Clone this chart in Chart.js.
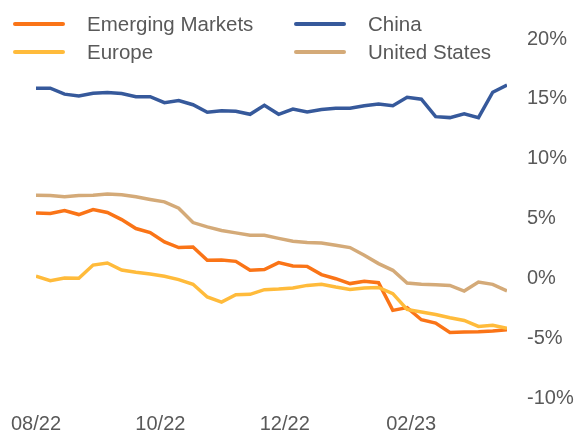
<!DOCTYPE html>
<html>
<head>
<meta charset="utf-8">
<script src="https://cdn.jsdelivr.net/npm/chart.js@4.4.0/dist/chart.umd.min.js"></script>
<style>
  html, body { margin: 0; padding: 0; background: #fff; }
  #wrap { position: relative; width: 580px; height: 433px; }
  #legend { position: absolute; left: 0; top: 0; width: 580px; height: 70px;
            font-family: "Liberation Sans", Arial, Helvetica, sans-serif; font-size: 20.5px; color: #595959; }
  .item { position: absolute; height: 24px; line-height: 24px; white-space: nowrap; }
  .swatch { position: absolute; top: 10px; width: 52px; height: 4px; border-radius: 2px; }
  .label { position: absolute; }
</style>
</head>
<body>
<div id="wrap">
  <canvas id="chart" width="580" height="433"></canvas>
  <div id="legend"></div>
</div>
<script>
'use strict';

// weekly observations (week start dates)
var weeks = [
    "2022-08-01", "2022-08-08", "2022-08-15", "2022-08-22", "2022-08-29",
    "2022-09-05", "2022-09-12", "2022-09-19", "2022-09-26",
    "2022-10-03", "2022-10-10", "2022-10-17", "2022-10-24", "2022-10-31",
    "2022-11-07", "2022-11-14", "2022-11-21", "2022-11-28",
    "2022-12-05", "2022-12-12", "2022-12-19", "2022-12-26",
    "2023-01-02", "2023-01-09", "2023-01-16", "2023-01-23", "2023-01-30",
    "2023-02-06", "2023-02-13", "2023-02-20", "2023-02-27",
    "2023-03-06", "2023-03-13", "2023-03-20"
];

var emergingMarkets = [5.47, 5.42, 5.67, 5.33, 5.75, 5.50, 4.91, 4.16, 3.83, 3.04, 2.57, 2.62,
    1.51, 1.53, 1.42, 0.67, 0.73, 1.31, 1.03, 1.00, 0.31, -0.03, -0.44, -0.25, -0.36,
    -2.68, -2.45, -3.46, -3.74, -4.52, -4.49, -4.47, -4.41, -4.30];
var europe = [0.19, -0.19, 0.03, 0.00, 1.11, 1.28, 0.70, 0.50, 0.36, 0.17, -0.11, -0.50,
    -1.56, -1.98, -1.37, -1.34, -0.95, -0.90, -0.81, -0.59, -0.50, -0.73, -0.93, -0.81, -0.76,
    -1.28, -2.60, -2.82, -3.02, -3.30, -3.52, -4.02, -3.92, -4.18];
var china = [15.89, 15.89, 15.39, 15.24, 15.47, 15.52, 15.44, 15.18, 15.18, 14.68, 14.85, 14.51,
    13.88, 14.01, 13.96, 13.71, 14.46, 13.71, 14.15, 13.90, 14.10, 14.21, 14.21, 14.43, 14.57,
    14.43, 15.13, 14.97, 13.51, 13.43, 13.74, 13.43, 15.55, 16.16];
var unitedStates = [6.95, 6.93, 6.81, 6.93, 6.95, 7.04, 6.98, 6.81, 6.59, 6.39, 5.86, 4.66,
    4.30, 4.00, 3.80, 3.60, 3.60, 3.34, 3.10, 2.99, 2.96, 2.76, 2.57, 1.93, 1.23,
    0.67, -0.39, -0.50, -0.53, -0.59, -1.06, -0.31, -0.50, -1.06];

var tickDates = ["2022-08-01", "2022-10-01", "2022-12-01", "2023-02-01"];
var tickLabels = ["08/22", "10/22", "12/22", "02/23"];

var seriesNames = ["Emerging Markets", "Europe", "China", "United States"];
var seriesColors = ["#fa7417", "#ffbb3b", "#36599b", "#d4aa78"];
var seriesData = [emergingMarkets, europe, china, unitedStates];

var DAY = 86400000;
var start = Date.parse(weeks[0]);
function dayOf(s) { return Math.round((Date.parse(s) - start) / DAY); }
var tickDays = tickDates.map(dayOf);

var FONT = "'Liberation Sans', Arial, Helvetica, sans-serif";

function draw() {
    var datasets = seriesData.map(function(values, i) {
        return {
            label: seriesNames[i],
            data: values.map(function(v, j) { return { x: dayOf(weeks[j]), y: v }; }),
            borderColor: seriesColors[i],
            backgroundColor: seriesColors[i],
            borderWidth: 3.5,
            pointRadius: 0,
            tension: 0,
            borderJoinStyle: 'miter'
        };
    });
    // draw China/US under the orange ones like the reference
    datasets = [datasets[3], datasets[2], datasets[1], datasets[0]];

    new Chart(document.getElementById('chart'), {
        type: 'line',
        data: { datasets: datasets },
        options: {
            responsive: false,
            animation: false,
            layout: { padding: { left: 36, top: 39, right: 0, bottom: 0 } },
            plugins: { legend: { display: false }, tooltip: { enabled: false } },
            scales: {
                x: {
                    type: 'linear',
                    min: 0,
                    max: dayOf(weeks[weeks.length - 1]),
                    grid: { display: false, drawTicks: false },
                    border: { display: false },
                    afterBuildTicks: function(scale) {
                        scale.ticks = tickDays.map(function(d) { return { value: d }; });
                    },
                    afterFit: function(scale) {
                        scale.height = 35;
                        scale.paddingLeft = 0;
                        scale.paddingRight = 0;
                    },
                    ticks: {
                        autoSkip: false,
                        maxRotation: 0,
                        padding: 14,
                        color: '#595959',
                        font: { family: FONT, size: 20 },
                        callback: function(v) {
                            var k = tickDays.indexOf(v);
                            return k >= 0 ? tickLabels[k] : '';
                        }
                    }
                },
                y: {
                    position: 'right',
                    min: -10,
                    max: 20,
                    grid: { display: false, drawTicks: false },
                    border: { display: false },
                    afterFit: function(scale) { scale.width = 73; },
                    ticks: {
                        stepSize: 5,
                        padding: 20,
                        color: '#595959',
                        font: { family: FONT, size: 20 },
                        callback: function(v) { return v + '%'; }
                    }
                }
            }
        }
    });

    // two-column legend
    var pos = [[13, 12], [13, 40], [294, 12], [294, 40]];
    var legend = document.getElementById('legend');
    seriesNames.forEach(function(name, i) {
        var item = document.createElement('div');
        item.className = 'item';
        item.style.left = pos[i][0] + 'px';
        item.style.top = pos[i][1] + 'px';
        var sw = document.createElement('div');
        sw.className = 'swatch';
        sw.style.background = seriesColors[i];
        var lb = document.createElement('div');
        lb.className = 'label';
        lb.style.left = '74px';
        lb.textContent = name;
        item.appendChild(sw);
        item.appendChild(lb);
        legend.appendChild(item);
    });
}
draw();
</script>
</body>
</html>
